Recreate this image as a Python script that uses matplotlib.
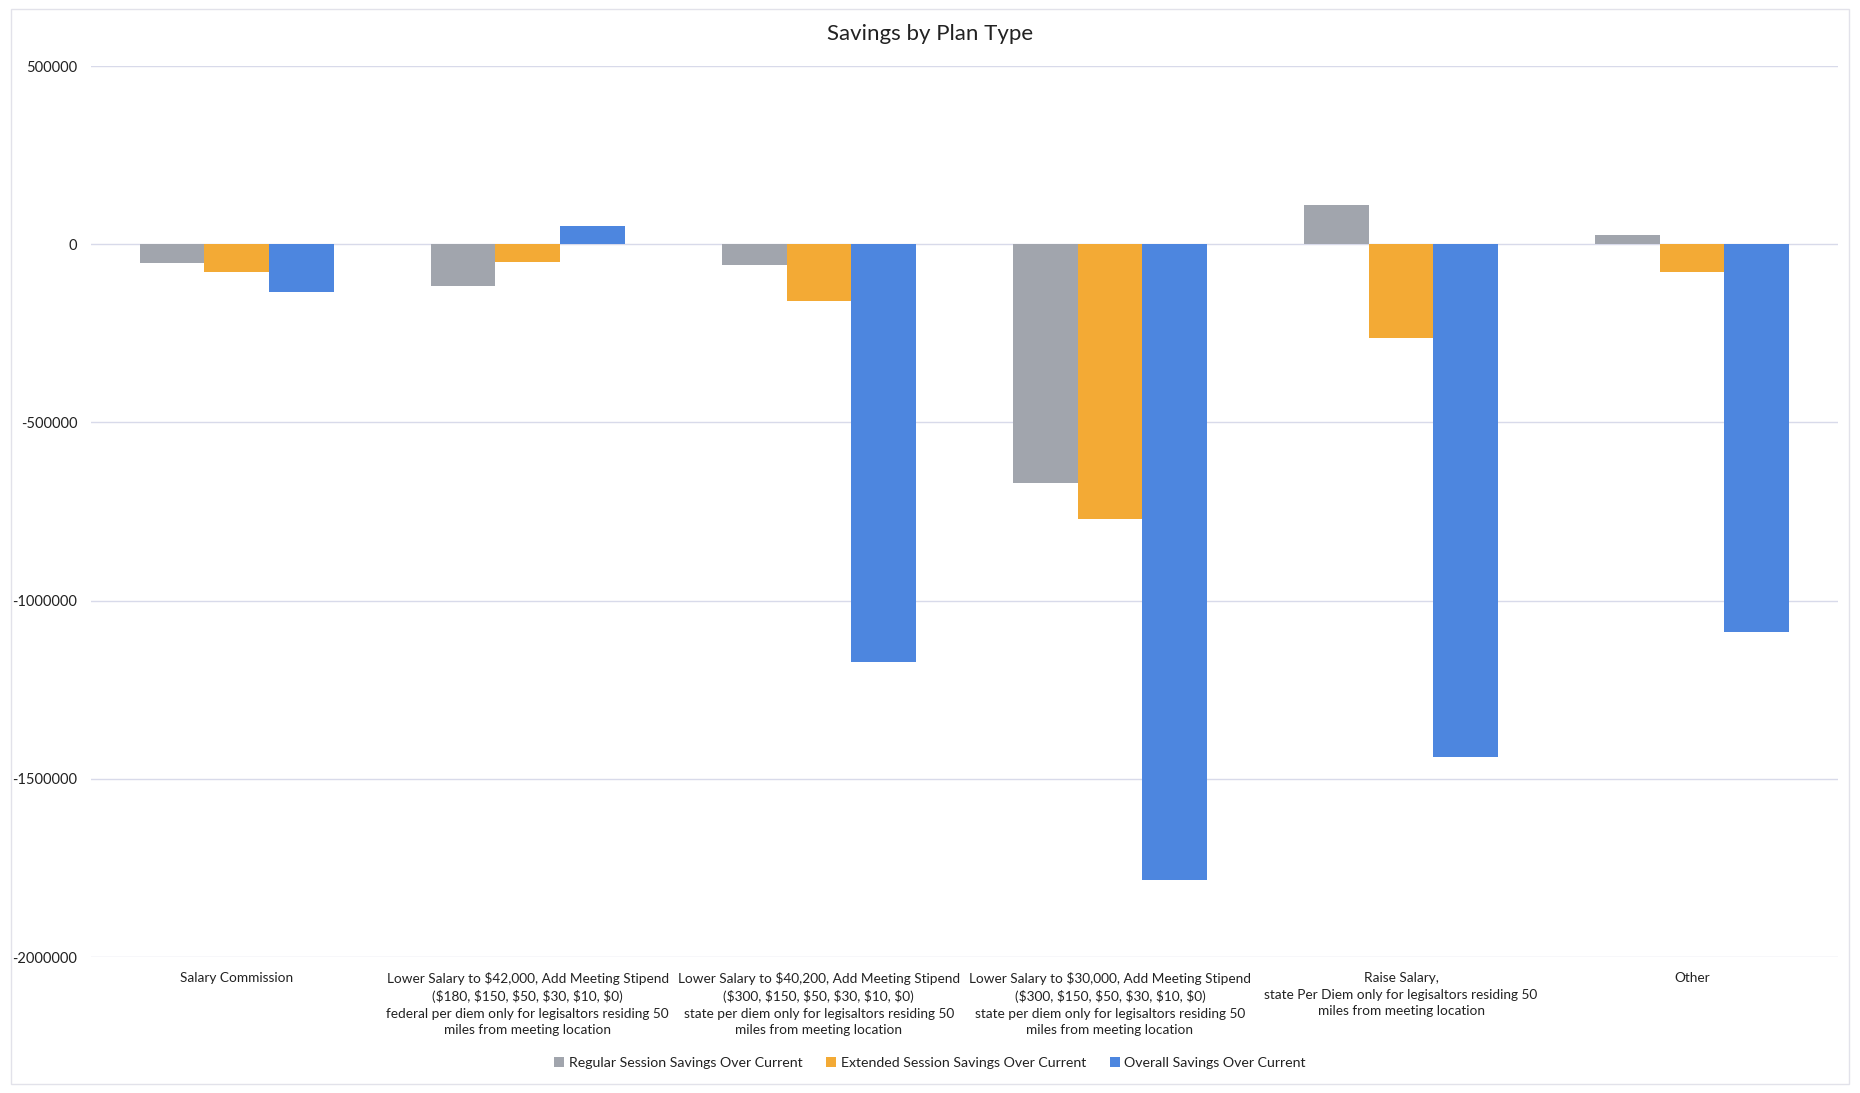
import numpy as np
import matplotlib.pyplot as plt
from matplotlib.patches import Rectangle

plt.rcParams['font.family'] = ['Lato', 'DejaVu Sans']
plt.rcParams['text.parse_math'] = False

# plan types (x categories)
categories = [
    "Salary Commission",
    "Lower Salary to $42,000, Add Meeting Stipend\n($180, $150, $50, $30, $10, $0)\n"
    "federal per diem only for legisaltors residing 50\nmiles from meeting location",
    "Lower Salary to $40,200, Add Meeting Stipend\n($300, $150, $50, $30, $10, $0)\n"
    "state per diem only for legisaltors residing 50\nmiles from meeting location",
    "Lower Salary to $30,000, Add Meeting Stipend\n($300, $150, $50, $30, $10, $0)\n"
    "state per diem only for legisaltors residing 50\nmiles from meeting location",
    "Raise Salary,\nstate Per Diem only for legisaltors residing 50\nmiles from meeting location",
    "Other",
]

# savings over current
regular = [-53000, -117000, -57000, -669000, 110000, 27000]
extended = [-77000, -50000, -160000, -772000, -263000, -77000]
overall = [-133000, 50000, -1172000, -1784000, -1438000, -1089000]

series_names = ["Regular Session Savings Over Current",
                "Extended Session Savings Over Current",
                "Overall Savings Over Current"]
colors = ["#A1A5AD", "#F3AA35", "#4D86DF"]

fig = plt.figure(figsize=(18.6, 10.93), dpi=100)
ax = fig.add_axes([0.049, 0.1244, 0.939, 0.8152])

x = np.arange(len(categories))
w = 0.222
for i, (vals, name, c) in enumerate(zip([regular, extended, overall], series_names, colors)):
    ax.bar(x + (i - 1) * w, vals, width=w, color=c, label=name, zorder=2)

ax.set_xlim(-0.5, len(categories) - 0.5)
ax.set_ylim(-2000000, 500000)
yt = np.arange(-2000000, 500001, 500000)
ax.set_yticks(yt)
ax.set_yticklabels([f"{int(v)}" for v in yt])
ax.grid(axis='y', color='#D8DAEA', linewidth=1, zorder=0)
for s in ax.spines.values():
    s.set_visible(False)
ax.tick_params(length=0, colors='#222222')
ax.tick_params(axis='y', labelsize=10.5, pad=10)
ax.set_xticks(x)
ax.set_xticklabels(categories, fontsize=9.8, linespacing=1.45, va='top')
ax.tick_params(axis='x', pad=11)

fig.suptitle("Savings by Plan Type", fontsize=16, y=0.978, color='#222222')

fig.legend(loc='lower center', bbox_to_anchor=(0.5, 0.01), ncol=3, frameon=False,
           fontsize=10.2, handlelength=0.7, handleheight=0.7, handletextpad=0.3,
           columnspacing=1.7, labelcolor='#222222')

# faint chart border
fig.patches.append(Rectangle((0.006, 0.008), 0.988, 0.984, transform=fig.transFigure,
                             fill=False, edgecolor='#E2E2EA', linewidth=1))

fig.savefig("out.png", dpi=100)
